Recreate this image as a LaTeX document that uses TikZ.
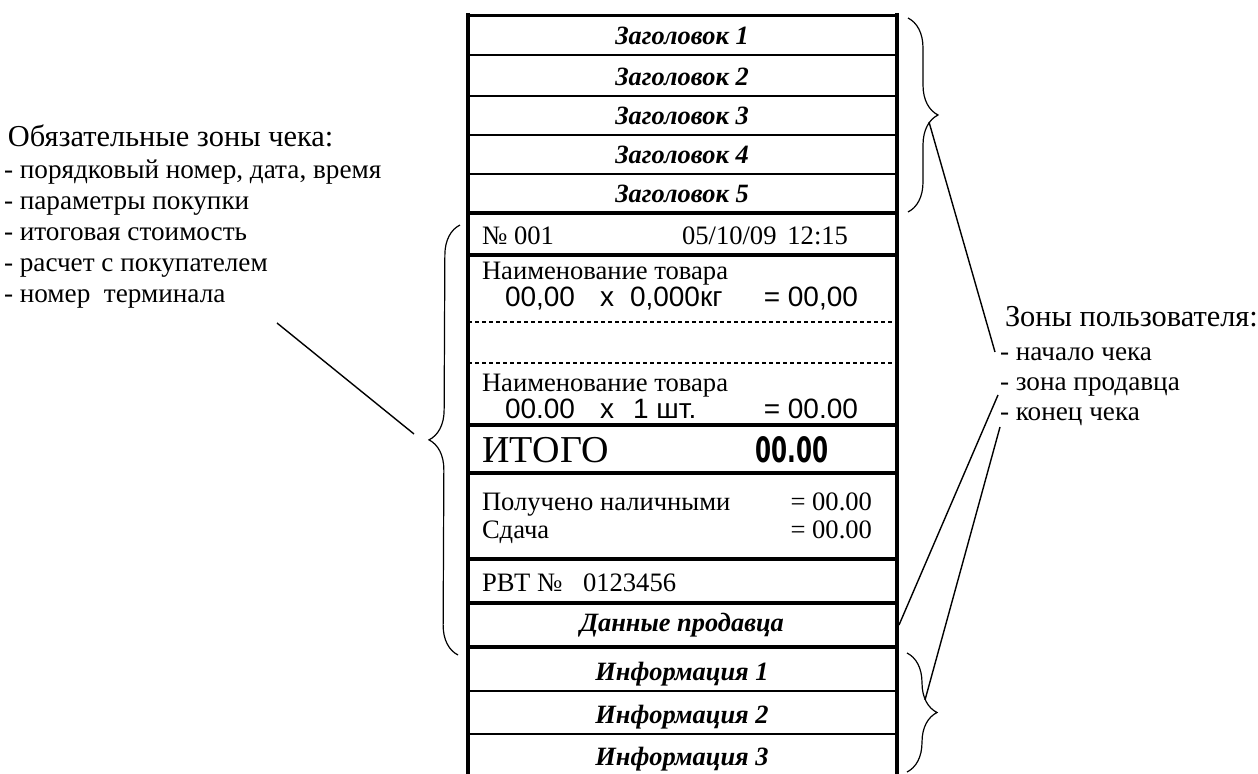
\documentclass[tikz,border=0pt]{standalone}
\usepackage{fontspec}
\setmainfont{Liberation Serif}
\newfontfamily\arialfont{Liberation Sans}
\newfontfamily\dvfont{DejaVu Sans}
\usetikzlibrary{decorations.pathreplacing}
\tikzset{
  txt/.style={inner sep=0pt, outer sep=0pt, font=\fontsize{13.3}{15}\selectfont},
  legtxt/.style={inner sep=0pt, outer sep=0pt, anchor=base west, font=\fontsize{13.6}{15}\selectfont},
  sanstxt/.style={inner sep=0pt, outer sep=0pt, font=\arialfont\fontsize{14}{16}\selectfont},
  hd/.style={inner sep=0pt, outer sep=0pt, anchor=base, font=\bfseries\itshape\fontsize{13.2}{15}\selectfont},
  bigtxt/.style={inner sep=0pt, outer sep=0pt, anchor=base west, font=\fontsize{15.2}{18}\selectfont},
  thickrule/.style={line width=2.2pt},
  thinrule/.style={line width=1pt},
  dashrule/.style={line width=0.7pt, dash pattern=on 2pt off 1.5pt},
  conn/.style={line width=0.7pt},
  bracestyle/.style={line width=0.6pt, decorate, decoration={brace, amplitude=15pt}}
}
\begin{document}
\begin{tikzpicture}[x=0.5pt,y=-0.5pt]
\useasboundingbox (0,0) rectangle (1258,774);
% receipt frame
\draw[thickrule] (468,13) -- (468,774);
\draw[thickrule] (897,13) -- (897,774);
\draw[line width=1.5pt] (468,16) -- (897,16);
\foreach \y in {55,96,135,174,691,734} \draw[thinrule] (468,\y) -- (897,\y);
\foreach \y in {213,255,425,473,559,603,647} \draw[thickrule] (468,\y) -- (897,\y);
\foreach \y in {322,363} \draw[dashrule] (468,\y) -- (897,\y);
% headings
\node[hd] (h1) at (682,45) {Заголовок 1};
\node[hd] (h2) at (682,86) {Заголовок 2};
\node[hd] (h3) at (682,125) {Заголовок 3};
\node[hd] (h4) at (682,164) {Заголовок 4};
\node[hd] (h5) at (682,203) {Заголовок 5};
% number / date
\node[txt, anchor=base west] (num) at (482,245) {№ 001};
\node[txt, anchor=base west] (date) at (682,245) {05/10/09};
\node[txt, anchor=base east] (time) at (848,245) {12:15};
% item 1
\node[txt, anchor=base west] (n1) at (482,280) {Наименование товара};
\node[sanstxt, anchor=base west] (p1) at (505,307) {00,00};
\node[sanstxt, anchor=base west] (x1) at (600,307) {x};
\node[sanstxt, anchor=base west] (q1) at (630,307) {0,000кг};
\node[sanstxt, anchor=base east] (s1) at (858,307) {= 00,00};
% item 2
\node[txt, anchor=base west] (n2) at (482,392) {Наименование товара};
\node[sanstxt, anchor=base west] (p2) at (505,419) {00.00};
\node[sanstxt, anchor=base west] (x2) at (600,419) {x};
\node[sanstxt, anchor=base west] (q2) at (633,419) {1 шт.};
\node[sanstxt, anchor=base east] (s2) at (858,419) {= 00.00};
% total
\node[inner sep=0pt, anchor=base west, font=\fontsize{19}{22}\selectfont] (tot) at (482,463) {ИТОГО};
\node[inner sep=0pt, anchor=base west] (totv) at (755,463) {\resizebox{36.5pt}{13pt}{\dvfont\bfseries 00.00}};
% payment
\node[txt, anchor=base west] (paid) at (482,511) {Получено наличными};
\node[txt, anchor=base east] (paidv) at (872,511) {= 00.00};
\node[txt, anchor=base west] (chg) at (482,539) {Сдача};
\node[txt, anchor=base east] (chgv) at (872,539) {= 00.00};
% terminal
\node[txt, anchor=base west] (rvt) at (482,592) {РВТ №};
\node[txt, anchor=base west] (rvtv) at (583,592) {0123456};
% seller and info
\node[hd] (seller) at (682,632) {Данные продавца};
\node[hd] (i1) at (682,680) {Информация 1};
\node[hd] (i2) at (682,723) {Информация 2};
\node[hd] (i3) at (682,765) {Информация 3};
% left legend
\node[bigtxt] (oblig) at (8,147) {Обязательные зоны чека:};
\node[legtxt] (o1) at (4,179) {- порядковый номер, дата, время};
\node[legtxt] (o2) at (4,210) {- параметры покупки};
\node[legtxt] (o3) at (4,241) {- итоговая стоимость};
\node[legtxt] (o4) at (4,272) {- расчет с покупателем};
\node[legtxt] (o5) at (4,303) {- номер\ \ терминала};
% right legend
\node[bigtxt] (user) at (1005,327) {Зоны пользователя:};
\node[legtxt] (u1) at (1000,361) {- начало чека};
\node[legtxt] (u2) at (1000,391) {- зона продавца};
\node[legtxt] (u3) at (1000,421) {- конец чека};
% braces
\draw[bracestyle] (458,655) -- (460,225);
\draw[bracestyle] (908,18) -- (908,212);
\draw[bracestyle] (907,653) -- (907,772);
% connectors
\coordinate (lA) at (277,323);
\coordinate (lB) at (414,434);
\coordinate (rA1) at (929,122);
\coordinate (rB1) at (995,352);
\coordinate (rA2) at (998,395);
\coordinate (rB2) at (899,625);
\coordinate (rA3) at (1000,427);
\coordinate (rB3) at (925,700);
\draw[conn] (lA) -- (lB);
\draw[conn] (rA1) -- (rB1);
\draw[conn] (rA2) -- (rB2);
\draw[conn] (rA3) -- (rB3);
\end{tikzpicture}
\end{document}
